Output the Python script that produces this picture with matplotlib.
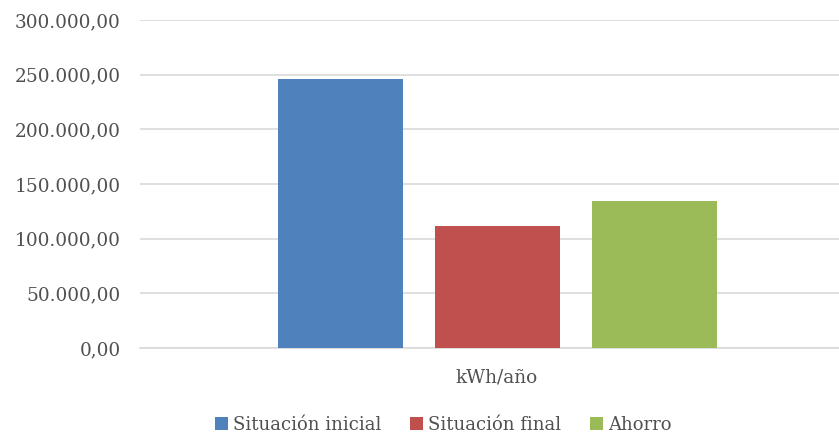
import matplotlib.pyplot as plt
import numpy as np
from matplotlib.ticker import FuncFormatter

# Datos
categoria = 'kWh/año'
series = ['Situación inicial', 'Situación final', 'Ahorro']
valores = [245600, 111600, 134000]
colores = ['#4f81bd', '#c0504d', '#9bbb59']

plt.rcParams['font.family'] = 'DejaVu Serif'
texto = '#505050'

fig = plt.figure(figsize=(8.39, 4.33), dpi=100)
ax = fig.add_axes([140 / 839, 85 / 433, 699 / 839, 328 / 433])

paso = 1.0
ancho = 0.796
pos = (np.arange(len(series)) - (len(series) - 1) / 2) * paso
for p, v, c, s in zip(pos, valores, colores, series):
    ax.bar(p, v, width=ancho, color=c, label=s, zorder=3)

ax.set_xlim(-2.274, 2.178)
ax.set_ylim(0, 300000)
ax.set_yticks(np.arange(0, 300001, 50000))


def fmt_es(x, pos):
    s = f'{x:,.2f}'
    return s.replace(',', 'X').replace('.', ',').replace('X', '.')


ax.yaxis.set_major_formatter(FuncFormatter(fmt_es))
ax.set_xticks([0])
ax.set_xticklabels([categoria])
ax.tick_params(axis='both', length=0, labelsize=13.3, colors=texto)
ax.tick_params(axis='x', pad=15)
ax.tick_params(axis='y', pad=14)
ax.grid(axis='y', color='#d9d9d9', linewidth=1.2, zorder=0)
for lado in ['top', 'right', 'left']:
    ax.spines[lado].set_visible(False)
ax.spines['bottom'].set_color('#d9d9d9')
ax.spines['bottom'].set_linewidth(1.2)

fig.legend(loc='center', bbox_to_anchor=(443 / 839, 1 - 425 / 433), ncol=3, frameon=False,
           fontsize=13, labelcolor=texto, handlelength=0.75, handleheight=0.75,
           handletextpad=0.25, columnspacing=1.6)

plt.savefig('out.png', dpi=100)
